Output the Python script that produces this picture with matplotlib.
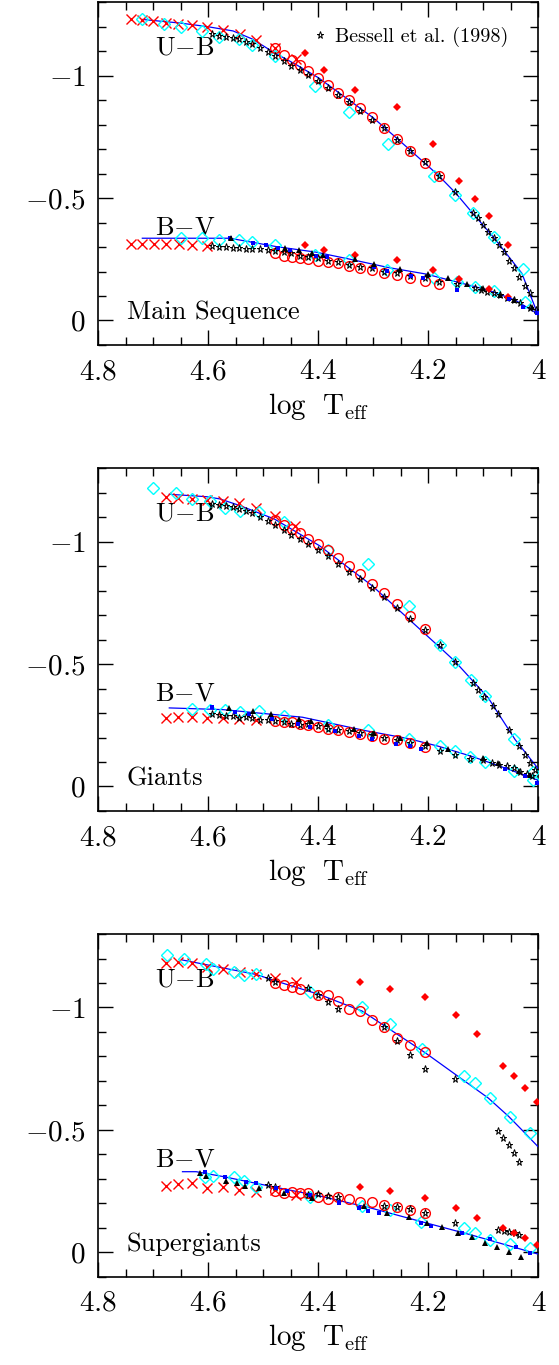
import matplotlib
matplotlib.use('Agg')
import matplotlib.pyplot as plt
from matplotlib.ticker import MultipleLocator, FuncFormatter
from matplotlib.lines import Line2D

plt.rcParams['font.family'] = ['cmr10', 'DejaVu Serif']
plt.rcParams['mathtext.fontset'] = 'cm'

# ---------------- Main Sequence ----------------
ms_ub_line_t = [4.72, 4.65, 4.60, 4.555, 4.52, 4.48, 4.44, 4.40, 4.35, 4.30, 4.25, 4.20, 4.18,
                4.15, 4.12, 4.08, 4.05, 4.03, 4.00]
ms_ub_line = [-1.23, -1.215, -1.20, -1.183, -1.15, -1.094, -1.045, -0.992, -0.91, -0.828, -0.73,
              -0.63, -0.589, -0.52, -0.44, -0.336, -0.25, -0.193, -0.02]
ms_ub_cross_t = [4.741, 4.721, 4.700, 4.677, 4.655, 4.629, 4.603, 4.574, 4.543, 4.513, 4.478, 4.440]
ms_ub_cross = [-1.231, -1.227, -1.224, -1.217, -1.213, -1.208, -1.199, -1.187, -1.169, -1.145,
               -1.112, -1.067]
ms_ub_diam_t = [4.721, 4.681, 4.649, 4.612, 4.580, 4.544, 4.520, 4.478, 4.406, 4.344, 4.274, 4.190,
                4.151, 4.118, 4.081, 4.027]
ms_ub_diam = [-1.231, -1.213, -1.199, -1.183, -1.158, -1.149, -1.126, -1.081, -0.958, -0.851,
              -0.721, -0.589, -0.511, -0.439, -0.343, -0.210]
ms_ub_star_t = [4.593, 4.580, 4.568, 4.556, 4.544, 4.532, 4.520, 4.506, 4.492, 4.478, 4.463, 4.449,
                4.433, 4.418, 4.401, 4.383, 4.364, 4.344, 4.324, 4.303, 4.281, 4.257, 4.233, 4.206,
                4.181, 4.151, 4.118, 4.109, 4.100, 4.091, 4.081, 4.072, 4.063, 4.054, 4.045, 4.035,
                4.025, 4.015, 4.004]
ms_ub_star = [-1.169, -1.162, -1.158, -1.153, -1.149, -1.139, -1.128, -1.112, -1.098, -1.081,
              -1.060, -1.040, -1.022, -1.001, -0.978, -0.951, -0.923, -0.892, -0.855, -0.821,
              -0.787, -0.739, -0.694, -0.648, -0.589, -0.525, -0.439, -0.418, -0.391, -0.363,
              -0.336, -0.309, -0.279, -0.243, -0.213, -0.176, -0.142, -0.111, -0.042]
ms_ub_circ_t = [4.478, 4.463, 4.448, 4.433, 4.418, 4.401, 4.383, 4.364, 4.344, 4.324, 4.303, 4.281,
                4.257, 4.233, 4.206, 4.181]
ms_ub_circ = [-1.112, -1.085, -1.064, -1.042, -1.019, -0.992, -0.962, -0.930, -0.900, -0.869,
              -0.831, -0.787, -0.743, -0.694, -0.643, -0.589]
ms_ub_rdiam_t = [4.424, 4.390, 4.334, 4.257, 4.192, 4.144, 4.115, 4.089, 4.056]
ms_ub_rdiam = [-1.091, -1.022, -0.941, -0.871, -0.721, -0.568, -0.497, -0.428, -0.309]

ms_bv_line_t = [4.72, 4.561, 4.477, 4.404, 4.344, 4.272, 4.205, 4.151, 4.091, 4.042, 4.00]
ms_bv_line = [-0.336, -0.336, -0.302, -0.279, -0.251, -0.216, -0.190, -0.159, -0.124, -0.083, -0.025]
ms_bv_cross_t = [4.741, 4.720, 4.699, 4.677, 4.653, 4.629, 4.603]
ms_bv_cross = [-0.313, -0.313, -0.313, -0.313, -0.313, -0.309, -0.306]
ms_bv_diam_t = [4.649, 4.612, 4.580, 4.544, 4.520, 4.478, 4.406, 4.344, 4.276, 4.190, 4.148, 4.115,
                4.080, 4.024]
ms_bv_diam = [-0.339, -0.339, -0.329, -0.329, -0.322, -0.309, -0.268, -0.247, -0.206, -0.175,
              -0.159, -0.138, -0.120, -0.077]
ms_bv_star_t = [4.593, 4.580, 4.568, 4.556, 4.544, 4.532, 4.520, 4.506, 4.492, 4.478, 4.463, 4.449,
                4.433, 4.418, 4.401, 4.383, 4.364, 4.344, 4.324, 4.303, 4.281, 4.257, 4.233, 4.206,
                4.181, 4.148, 4.115, 4.104, 4.094, 4.081, 4.069, 4.057, 4.045, 4.033, 4.015]
ms_bv_star = [-0.306, -0.302, -0.302, -0.298, -0.295, -0.292, -0.291, -0.291, -0.288, -0.284,
              -0.279, -0.275, -0.265, -0.258, -0.254, -0.243, -0.238, -0.227, -0.220, -0.213,
              -0.200, -0.193, -0.182, -0.172, -0.159, -0.148, -0.134, -0.124, -0.118, -0.111,
              -0.104, -0.093, -0.083, -0.070, -0.052]
ms_bv_circ_t = [4.478, 4.463, 4.448, 4.433, 4.418, 4.401, 4.383, 4.364, 4.344, 4.324, 4.303, 4.281,
                4.257, 4.233, 4.206, 4.181]
ms_bv_circ = [-0.275, -0.265, -0.261, -0.257, -0.250, -0.245, -0.240, -0.234, -0.223, -0.216,
              -0.206, -0.195, -0.186, -0.175, -0.161, -0.148]
ms_bv_rdiam_t = [4.424, 4.390, 4.334, 4.257, 4.192, 4.144, 4.089, 4.056]
ms_bv_rdiam = [-0.309, -0.288, -0.268, -0.247, -0.206, -0.168, -0.127, -0.097]
ms_bv_sq_t = [4.561, 4.519, 4.495, 4.474, 4.451, 4.405, 4.384, 4.299, 4.276, 4.232, 4.209, 4.148,
              4.053, 4.027, 4.002]
ms_bv_sq = [-0.336, -0.318, -0.309, -0.295, -0.288, -0.265, -0.258, -0.217, -0.202, -0.183, -0.175,
            -0.124, -0.087, -0.056, -0.029]
ms_bv_tri_t = [4.558, 4.460, 4.436, 4.411, 4.391, 4.334, 4.299, 4.251, 4.200, 4.164, 4.130, 4.100,
               4.069, 4.045, 4.012]
ms_bv_tri = [-0.339, -0.298, -0.288, -0.275, -0.268, -0.251, -0.230, -0.210, -0.189, -0.172, -0.148,
             -0.134, -0.104, -0.083, -0.056]

# ---------------- Giants ----------------
gi_ub_line_t = [4.671, 4.603, 4.579, 4.543, 4.480, 4.398, 4.302, 4.175, 4.151, 4.091, 4.042, 4.006, 4.00]
gi_ub_line = [-1.194, -1.184, -1.175, -1.148, -1.093, -0.984, -0.820, -0.560, -0.510, -0.362,
              -0.191, -0.089, -0.072]
gi_ub_cross_t = [4.677, 4.655, 4.629, 4.603, 4.574, 4.544, 4.513, 4.478, 4.442]
gi_ub_cross = [-1.184, -1.180, -1.175, -1.171, -1.168, -1.157, -1.138, -1.107, -1.066]
gi_ub_diam_t = [4.700, 4.658, 4.629, 4.597, 4.570, 4.542, 4.507, 4.463, 4.383, 4.309, 4.235, 4.179,
                4.151, 4.122, 4.097, 4.045, 4.009]
gi_ub_diam = [-1.220, -1.198, -1.175, -1.165, -1.138, -1.124, -1.120, -1.079, -0.967, -0.909,
              -0.738, -0.577, -0.510, -0.437, -0.369, -0.196, -0.061]
gi_ub_star_t = [4.593, 4.580, 4.568, 4.556, 4.544, 4.532, 4.520, 4.506, 4.492, 4.478, 4.463, 4.449,
                4.433, 4.418, 4.401, 4.383, 4.364, 4.344, 4.324, 4.303, 4.281, 4.257, 4.233, 4.206,
                4.179, 4.151, 4.118, 4.109, 4.099, 4.083, 4.074, 4.054, 4.035, 4.025, 4.015, 4.006]
gi_ub_star = [-1.154, -1.152, -1.148, -1.141, -1.134, -1.124, -1.116, -1.100, -1.083, -1.068,
              -1.048, -1.029, -1.011, -0.991, -0.966, -0.940, -0.911, -0.878, -0.847, -0.810,
              -0.775, -0.731, -0.686, -0.638, -0.578, -0.510, -0.424, -0.396, -0.365, -0.328,
              -0.296, -0.232, -0.164, -0.130, -0.096, -0.068]
gi_ub_circ_t = [4.478, 4.463, 4.448, 4.433, 4.418, 4.401, 4.383, 4.364, 4.344, 4.324, 4.303, 4.281,
                4.257, 4.233, 4.206]
gi_ub_circ = [-1.089, -1.068, -1.052, -1.034, -1.011, -0.991, -0.967, -0.933, -0.902, -0.870,
              -0.829, -0.790, -0.747, -0.697, -0.645]

gi_bv_line_t = [4.671, 4.573, 4.513, 4.429, 4.314, 4.235, 4.181, 4.121, 4.060, 4.00]
gi_bv_line = [-0.321, -0.314, -0.301, -0.283, -0.228, -0.195, -0.164, -0.123, -0.075, -0.025]
gi_bv_cross_t = [4.677, 4.655, 4.629, 4.603, 4.574, 4.544, 4.513]
gi_bv_cross = [-0.280, -0.284, -0.284, -0.280, -0.280, -0.276, -0.273]
gi_bv_diam_t = [4.629, 4.597, 4.570, 4.542, 4.507, 4.463, 4.383, 4.309, 4.235, 4.179, 4.151, 4.124,
                4.097, 4.045, 4.009]
gi_bv_diam = [-0.318, -0.314, -0.314, -0.303, -0.307, -0.287, -0.250, -0.232, -0.195, -0.164,
              -0.143, -0.119, -0.102, -0.064, -0.027]
gi_bv_star_t = [4.593, 4.580, 4.568, 4.556, 4.544, 4.532, 4.520, 4.506, 4.492, 4.478, 4.463, 4.449,
                4.433, 4.418, 4.401, 4.383, 4.364, 4.344, 4.324, 4.303, 4.281, 4.257, 4.233, 4.206,
                4.179, 4.151, 4.124, 4.100, 4.085, 4.072, 4.057, 4.045, 4.033, 4.021, 4.012]
gi_bv_star = [-0.296, -0.291, -0.290, -0.290, -0.280, -0.284, -0.280, -0.273, -0.273, -0.266,
              -0.264, -0.255, -0.253, -0.257, -0.246, -0.236, -0.230, -0.225, -0.219, -0.212,
              -0.198, -0.191, -0.178, -0.164, -0.146, -0.130, -0.113, -0.109, -0.096, -0.089,
              -0.082, -0.075, -0.061, -0.050, -0.041]
gi_bv_circ_t = [4.478, 4.463, 4.448, 4.433, 4.418, 4.401, 4.383, 4.364, 4.344, 4.324, 4.303, 4.281,
                4.257, 4.233, 4.206]
gi_bv_circ = [-0.266, -0.264, -0.262, -0.257, -0.253, -0.242, -0.236, -0.230, -0.223, -0.216,
              -0.208, -0.195, -0.189, -0.178, -0.160]
gi_bv_sq_t = [4.594, 4.551, 4.526, 4.484, 4.437, 4.415, 4.370, 4.326, 4.303, 4.258, 4.234, 4.214,
              4.060, 4.025, 4.002]
gi_bv_sq = [-0.324, -0.303, -0.296, -0.277, -0.255, -0.243, -0.228, -0.208, -0.194, -0.173, -0.167,
            -0.154, -0.072, -0.041, -0.016]
gi_bv_tri_t = [4.562, 4.518, 4.486, 4.436, 4.413, 4.385, 4.335, 4.299, 4.251, 4.202, 4.164, 4.100,
               4.074, 4.036, 4.015]
gi_bv_tri = [-0.321, -0.310, -0.298, -0.276, -0.266, -0.257, -0.236, -0.219, -0.198, -0.178, -0.154,
             -0.116, -0.096, -0.064, -0.048]

# ---------------- Supergiants ----------------
sg_ub_line_t = [4.647, 4.513, 4.477, 4.398, 4.320, 4.205, 4.091, 4.054, 4.030, 4.00]
sg_ub_line = [-1.194, -1.135, -1.108, -1.053, -0.985, -0.814, -0.630, -0.555, -0.500, -0.43]
sg_ub_cross_t = [4.677, 4.655, 4.629, 4.603, 4.574, 4.543, 4.513, 4.478, 4.440]
sg_ub_cross = [-1.183, -1.186, -1.180, -1.167, -1.158, -1.145, -1.135, -1.122, -1.105]
sg_ub_diam_t = [4.676, 4.644, 4.605, 4.591, 4.554, 4.536, 4.513, 4.416, 4.320, 4.269, 4.211, 4.136,
                4.116, 4.088, 4.051, 4.015]
sg_ub_diam = [-1.213, -1.197, -1.176, -1.159, -1.145, -1.131, -1.135, -1.063, -1.003, -0.933,
              -0.831, -0.721, -0.691, -0.630, -0.552, -0.489]
sg_ub_star_t = [4.492, 4.478, 4.418, 4.401, 4.383, 4.364, 4.281, 4.257, 4.233, 4.206, 4.151, 4.074,
                4.065, 4.054, 4.045, 4.035]
sg_ub_star = [-1.122, -1.104, -1.081, -1.053, -1.022, -0.995, -0.919, -0.865, -0.807, -0.749,
              -0.708, -0.497, -0.468, -0.439, -0.407, -0.370]
sg_ub_circ_t = [4.478, 4.463, 4.448, 4.433, 4.401, 4.383, 4.364, 4.344, 4.324, 4.303, 4.281, 4.257,
                4.233, 4.206]
sg_ub_circ = [-1.101, -1.090, -1.083, -1.077, -1.049, -1.053, -1.026, -0.995, -0.985, -0.948,
              -0.921, -0.876, -0.848, -0.817]
sg_ub_rdiam_t = [4.324, 4.270, 4.206, 4.149, 4.112, 4.065, 4.044, 4.024, 4.003]
sg_ub_rdiam = [-1.104, -1.074, -1.042, -0.971, -0.892, -0.762, -0.721, -0.671, -0.612]

sg_bv_line_t = [4.647, 4.622, 4.573, 4.477, 4.392, 4.302, 4.211, 4.121, 4.00]
sg_bv_line = [-0.329, -0.329, -0.309, -0.265, -0.227, -0.179, -0.124, -0.070, 0.008]
sg_bv_cross_t = [4.677, 4.655, 4.629, 4.603, 4.574, 4.544, 4.513, 4.478, 4.440]
sg_bv_cross = [-0.270, -0.277, -0.281, -0.261, -0.265, -0.254, -0.247, -0.254, -0.234]
sg_bv_diam_t = [4.606, 4.591, 4.554, 4.536, 4.513, 4.416, 4.320, 4.269, 4.214, 4.136, 4.116, 4.088,
                4.051, 4.015]
sg_bv_diam = [-0.306, -0.311, -0.309, -0.292, -0.268, -0.227, -0.189, -0.172, -0.124, -0.100,
              -0.079, -0.049, -0.033, -0.019]
sg_bv_star_t = [4.492, 4.478, 4.418, 4.401, 4.383, 4.364, 4.281, 4.257, 4.233, 4.206, 4.151, 4.074,
                4.063, 4.053, 4.043, 4.035]
sg_bv_star = [-0.275, -0.268, -0.234, -0.238, -0.230, -0.224, -0.189, -0.183, -0.175, -0.161,
              -0.120, -0.090, -0.086, -0.083, -0.079, -0.070]
sg_bv_circ_t = [4.478, 4.463, 4.448, 4.433, 4.418, 4.401, 4.383, 4.364, 4.344, 4.324, 4.303, 4.281,
                4.257, 4.233, 4.206]
sg_bv_circ = [-0.251, -0.240, -0.247, -0.240, -0.240, -0.224, -0.217, -0.224, -0.216, -0.206,
              -0.204, -0.193, -0.186, -0.172, -0.159]
sg_bv_rdiam_t = [4.324, 4.270, 4.206, 4.149, 4.112, 4.065, 4.044, 4.024, 4.003]
sg_bv_rdiam = [-0.268, -0.250, -0.220, -0.179, -0.138, -0.100, -0.079, -0.059, -0.029]
sg_bv_sq_t = [4.606, 4.570, 4.532, 4.514, 4.477, 4.457, 4.415, 4.363, 4.326, 4.309, 4.290, 4.214,
              4.196, 4.139, 4.088, 4.041, 4.015]
sg_bv_sq = [-0.329, -0.309, -0.288, -0.281, -0.261, -0.251, -0.234, -0.200, -0.179, -0.169, -0.159,
            -0.120, -0.108, -0.079, -0.056, -0.022, 0.003]
sg_bv_tri_t = [4.615, 4.605, 4.568, 4.548, 4.534, 4.508, 4.463, 4.411, 4.317, 4.275, 4.235, 4.202,
               4.176, 4.146, 4.121, 4.097, 4.075, 4.053, 4.031]
sg_bv_tri = [-0.322, -0.311, -0.292, -0.281, -0.270, -0.261, -0.240, -0.220, -0.189, -0.159, -0.142,
             -0.120, -0.101, -0.079, -0.063, -0.038, -0.022, -0.001, 0.019]

# marker styles
STY = {
    'cross': dict(ls='none', marker='x', color='red', ms=6.5, mew=1.0),
    'diam': dict(ls='none', marker='D', mfc='none', mec='cyan', ms=6.5, mew=1.0),
    'star': dict(ls='none', marker='*', mfc='none', mec='black', ms=5.2, mew=0.7),
    'circ': dict(ls='none', marker='o', mfc='none', mec='red', ms=7, mew=1.0),
    'rdiam': dict(ls='none', marker='D', color='red', ms=3.8, mew=0),
    'sq': dict(ls='none', marker='s', color='blue', ms=3.5, mew=0),
    'tri': dict(ls='none', marker='^', color='black', ms=4.2, mew=0),
}

panels = [
    ('Main Sequence', 0.7473, [
        ('line', ms_ub_line_t, ms_ub_line), ('line', ms_bv_line_t, ms_bv_line),
        ('cross', ms_ub_cross_t, ms_ub_cross), ('cross', ms_bv_cross_t, ms_bv_cross),
        ('diam', ms_ub_diam_t, ms_ub_diam), ('diam', ms_bv_diam_t, ms_bv_diam),
        ('circ', ms_ub_circ_t, ms_ub_circ), ('circ', ms_bv_circ_t, ms_bv_circ),
        ('star', ms_ub_star_t, ms_ub_star), ('star', ms_bv_star_t, ms_bv_star),
        ('rdiam', ms_ub_rdiam_t, ms_ub_rdiam), ('rdiam', ms_bv_rdiam_t, ms_bv_rdiam),
        ('sq', ms_bv_sq_t, ms_bv_sq), ('tri', ms_bv_tri_t, ms_bv_tri)]),
    ('Giants', 0.4059, [
        ('line', gi_ub_line_t, gi_ub_line), ('line', gi_bv_line_t, gi_bv_line),
        ('cross', gi_ub_cross_t, gi_ub_cross), ('cross', gi_bv_cross_t, gi_bv_cross),
        ('diam', gi_ub_diam_t, gi_ub_diam), ('diam', gi_bv_diam_t, gi_bv_diam),
        ('circ', gi_ub_circ_t, gi_ub_circ), ('circ', gi_bv_circ_t, gi_bv_circ),
        ('star', gi_ub_star_t, gi_ub_star), ('star', gi_bv_star_t, gi_bv_star),
        ('sq', gi_bv_sq_t, gi_bv_sq), ('tri', gi_bv_tri_t, gi_bv_tri)]),
    ('Supergiants', 0.0647, [
        ('line', sg_ub_line_t, sg_ub_line), ('line', sg_bv_line_t, sg_bv_line),
        ('cross', sg_ub_cross_t, sg_ub_cross), ('cross', sg_bv_cross_t, sg_bv_cross),
        ('diam', sg_ub_diam_t, sg_ub_diam), ('diam', sg_bv_diam_t, sg_bv_diam),
        ('circ', sg_ub_circ_t, sg_ub_circ), ('circ', sg_bv_circ_t, sg_bv_circ),
        ('star', sg_ub_star_t, sg_ub_star), ('star', sg_bv_star_t, sg_bv_star),
        ('rdiam', sg_ub_rdiam_t, sg_ub_rdiam), ('rdiam', sg_bv_rdiam_t, sg_bv_rdiam),
        ('sq', sg_bv_sq_t, sg_bv_sq), ('tri', sg_bv_tri_t, sg_bv_tri)]),
]

fig = plt.figure(figsize=(5.59, 13.65), dpi=100)
fmt = FuncFormatter(lambda v, p: '$%g$' % round(v, 3))

for i, (name, bottom, series) in enumerate(panels):
    ax = fig.add_axes([0.1759, bottom, 0.7871, 0.251])
    for kind, t, c in series:
        if kind == 'line':
            ax.plot(t, c, color='blue', lw=0.9, zorder=3)
        else:
            ax.plot(t, c, zorder=4, **STY[kind])
    ax.set_xlim(4.8, 4.0)
    ax.set_ylim(0.1, -1.3)
    ax.xaxis.set_major_locator(MultipleLocator(0.2))
    ax.xaxis.set_minor_locator(MultipleLocator(0.05))
    ax.yaxis.set_major_locator(MultipleLocator(0.5))
    ax.yaxis.set_minor_locator(MultipleLocator(0.1))
    ax.xaxis.set_major_formatter(fmt)
    ax.yaxis.set_major_formatter(fmt)
    ax.tick_params(which='both', direction='in', top=True, right=True, width=1.0, labelsize=21)
    ax.tick_params(which='major', length=11)
    ax.tick_params(which='minor', length=5.5)
    ax.tick_params(axis='x', pad=10)
    ax.tick_params(axis='y', pad=9)
    for s in ax.spines.values():
        s.set_linewidth(1.2)
    ax.set_xlabel(r'$\mathrm{log\ \ T_{eff}}$', fontsize=21, labelpad=4)

    ax.text(0.129, 0.868, r'$\mathrm{U{-}B}$', transform=ax.transAxes, fontsize=19, va='center')
    ax.text(0.129, 0.343, r'$\mathrm{B{-}V}$', transform=ax.transAxes, fontsize=19, va='center')
    ax.text(0.065, 0.095, name, transform=ax.transAxes, fontsize=19, va='center')

    if i == 0:
        h = Line2D([], [], **STY['star'])
        ax.legend([h], ['Bessell et al. (1998)'], loc='center left', bbox_to_anchor=(0.487, 0.898),
                  frameon=False, fontsize=14.5, handlelength=0.7, handletextpad=0.4,
                  borderpad=0, borderaxespad=0)

fig.savefig('out.png', dpi=100)
